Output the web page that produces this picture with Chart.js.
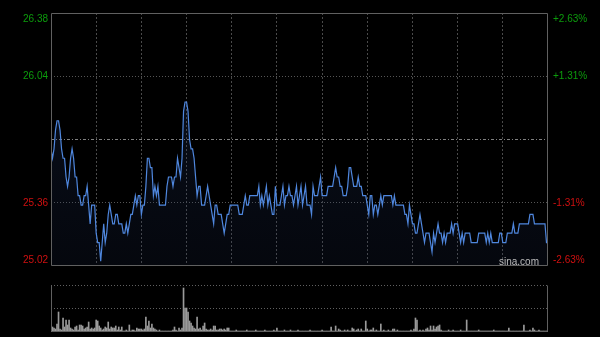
<!DOCTYPE html>
<html><head><meta charset="utf-8">
<script src="https://cdn.jsdelivr.net/npm/chart.js@4.4.0/dist/chart.umd.min.js"></script>
<style>
html,body{margin:0;padding:0;background:#000;width:600px;height:337px;overflow:hidden}
#wrapMain{position:absolute;left:0;top:0;width:600px;height:280px}
#wrapVol{position:absolute;left:0;top:280px;width:600px;height:57px}
#wm{position:absolute;left:499px;top:256px;font:10px Arial,'Liberation Sans',sans-serif;line-height:12px;color:#bbb}
</style></head><body>
<div id="wrapMain"><canvas id="main" width="600" height="280"></canvas></div>
<div id="wrapVol"><canvas id="vol" width="600" height="57"></canvas></div>
<div id="wm">sina.com</div>
<script>
// price per minute (HK session 09:30-12:00, 13:00-16:00)
const prices = [
25.65,25.60,25.65,25.75,25.80,25.80,25.75,25.65,25.60,25.60,
25.50,25.45,25.50,25.60,25.65,25.60,25.50,25.50,25.40,25.40,
25.35,25.35,25.40,25.40,25.45,25.35,25.25,25.35,25.35,25.35,
25.20,25.15,25.15,25.05,25.15,25.25,25.15,25.20,25.30,25.35,
25.30,25.25,25.25,25.30,25.30,25.25,25.25,25.25,25.20,25.20,
25.25,25.20,25.25,25.30,25.30,25.35,25.40,25.35,25.40,25.40,
25.30,25.35,25.35,25.45,25.60,25.60,25.55,25.55,25.40,25.45,
25.40,25.45,25.35,25.35,25.35,25.35,25.35,25.45,25.50,25.50,
25.50,25.45,25.50,25.50,25.60,25.55,25.50,25.60,25.85,25.90,
25.90,25.85,25.70,25.65,25.65,25.60,25.50,25.40,25.45,25.45,
25.35,25.35,25.35,25.40,25.45,25.40,25.35,25.30,25.25,25.35,
25.35,25.30,25.30,25.30,25.25,25.20,25.25,25.30,25.30,25.35,
25.35,25.35,25.35,25.35,25.35,25.30,25.30,25.30,25.35,25.40,
25.35,25.35,25.40,25.40,25.40,25.40,25.40,25.40,25.45,25.35,
25.40,25.35,25.40,25.45,25.35,25.40,25.35,25.30,25.30,25.45,
25.35,25.35,25.35,25.40,25.45,25.35,25.40,25.40,25.45,25.40,
25.40,25.35,25.40,25.45,25.35,25.40,25.45,25.35,25.40,25.45,
25.35,25.35,25.35,25.30,25.45,25.40,25.40,25.40,25.45,25.50,
25.40,25.40,25.40,25.40,25.45,25.45,25.45,25.45,25.50,25.55,
25.50,25.50,25.45,25.45,25.40,25.40,25.40,25.45,25.55,25.55,
25.50,25.45,25.45,25.45,25.50,25.45,25.45,25.40,25.40,25.40,
25.35,25.30,25.40,25.40,25.30,25.35,25.35,25.30,25.35,25.40,
25.35,25.40,25.40,25.40,25.40,25.40,25.40,25.35,25.40,25.35,
25.35,25.35,25.35,25.35,25.35,25.30,25.30,25.25,25.35,25.30,
25.25,25.25,25.20,25.20,25.25,25.30,25.25,25.20,25.15,25.20,
25.20,25.20,25.15,25.10,25.20,25.15,25.20,25.25,25.20,25.20,
25.15,25.20,25.15,25.20,25.20,25.20,25.25,25.20,25.25,25.25,
25.25,25.20,25.15,25.20,25.15,25.20,25.20,25.20,25.20,25.15,
25.15,25.15,25.15,25.15,25.20,25.20,25.20,25.20,25.20,25.15,
25.20,25.15,25.20,25.15,25.15,25.15,25.15,25.15,25.20,25.20,
25.15,25.15,25.15,25.20,25.20,25.20,25.20,25.25,25.20,25.20,
25.20,25.25,25.25,25.25,25.25,25.25,25.25,25.25,25.30,25.30,
25.30,25.25,25.25,25.25,25.25,25.25,25.25,25.25,25.25,25.15,
25.15
];
// volume per minute (relative units)
const volumes = [
15,5,4,3,8,20,3,2,14,5,
12,7,12,4,3,2,5,6,2,7,
7,6,3,4,5,10,3,4,3,4,
12,11,6,4,2,3,5,4,10,3,
5,4,4,6,2,5,2,5,1,1,
2,1,7,1,2,2,1,4,3,3,
3,2,3,15,6,11,4,8,4,3,
2,1,2,1,1,1,1,1,1,1,
1,2,5,2,1,4,2,4,44,24,
24,20,11,9,6,4,3,15,3,4,
2,6,9,3,2,2,3,2,6,6,
2,2,3,3,2,3,2,4,4,1,
1,1,1,2,1,1,1,1,1,1,
2,1,1,1,1,1,2,1,1,1,
1,1,2,1,1,1,1,1,2,1,
4,1,1,1,1,2,1,1,1,2,
1,1,1,1,2,1,1,1,1,1,
1,1,2,1,1,1,1,1,1,1,
2,1,1,1,1,1,5,1,1,6,
1,3,2,1,1,2,1,2,1,1,
4,3,1,2,3,1,3,1,1,11,
3,1,2,2,4,1,2,1,1,8,
1,2,1,1,2,1,1,3,3,1,
2,1,1,1,1,1,1,1,1,2,
1,3,14,12,1,2,1,2,1,3,
4,2,6,2,6,3,5,6,7,2,
1,1,1,1,2,1,1,2,1,1,
1,1,2,1,1,1,12,1,1,1,
1,1,1,1,2,1,1,1,1,1,
1,1,1,1,2,1,1,1,1,1,
1,1,1,1,4,1,1,1,1,1,
1,1,1,1,7,1,1,1,2,1,
4,2,1,1,2,1,1,1,1,1,
1
];
const preClose = 25.70;
const priceTicks = [25.025, 25.3625, 25.70, 26.0375, 26.375];
const priceLabels = ['25.02', '25.36', '', '26.04', '26.38'];
const pctLabels = ['-2.63%', '-1.31%', '', '+1.31%', '+2.63%'];
const upColor = '#0c9c0c', downColor = '#d01010';
const FONT = {family: "Arial, 'Liberation Sans', sans-serif", size: 10};

function tickColor(c){ return c.tick && c.tick.value > preClose ? upColor : downColor; }
function withOffset(lbl, idx){
  if (idx === priceTicks.length - 1) return ['', lbl];
  if (idx === 0) return [lbl, ''];
  return lbl;
}
function fitY(width){
  return (s) => { s.width = width; s.paddingTop = 0; s.paddingBottom = 0; };
}

const framePlugin = {
  id: 'frame',
  afterDatasetsDraw(chart){
    const ca = chart.chartArea, ctx = chart.ctx;
    ctx.save();
    ctx.strokeStyle = '#606060'; ctx.lineWidth = 1;
    const l = Math.round(ca.left) + 0.5, r = Math.round(ca.right) - 0.5;
    const t = Math.round(ca.top) + 0.5, b = Math.round(ca.bottom) - 0.5;
    ctx.beginPath();
    if (chart.canvas.id === 'main') {
      ctx.rect(l, t, r - l, b - t);
    } else {
      ctx.moveTo(l, t); ctx.lineTo(l, b); ctx.lineTo(r, b); ctx.lineTo(r, t);
    }
    ctx.stroke();
    ctx.restore();
  }
};

new Chart(document.getElementById('main'), {
  type: 'line',
  data: {datasets: [{
    data: prices.map((p, i) => ({x: i, y: p})),
    borderColor: '#4f87de', borderWidth: 1.2, pointRadius: 0, tension: 0,
    fill: 'start',
    backgroundColor: (c) => {
      const ca = c.chart.chartArea;
      if (!ca) return 'rgba(0,0,0,0)';
      const g = c.chart.ctx.createLinearGradient(0, ca.top, 0, ca.bottom);
      g.addColorStop(0, 'rgba(45,75,140,0.24)');
      g.addColorStop(1, 'rgba(30,45,85,0.16)');
      return g;
    }
  }]},
  options: {
    responsive: false, animation: false,
    layout: {padding: {top: 13, bottom: 14, left: 0, right: 0}},
    plugins: {legend: {display: false}, tooltip: {enabled: false}},
    scales: {
      x: {type: 'linear', min: 0, max: 330,
        ticks: {display: false, stepSize: 30},
        grid: {drawTicks: false, color: (c) => (c.tick && (c.tick.value === 0 || c.tick.value === 330)) ? 'rgba(0,0,0,0)' : '#4a4a4a'},
        border: {display: false, dash: [2, 2]},
        afterFit: (s) => { s.height = 0; s.paddingLeft = 0; s.paddingRight = 0; }
      },
      y: {position: 'left', min: 25.025, max: 26.375,
        afterBuildTicks: (s) => { s.ticks = priceTicks.map(v => ({value: v})); },
        ticks: {autoSkip: false, padding: 3, font: FONT, color: tickColor,
          callback: (v, i) => withOffset(priceLabels[i], i)},
        grid: {drawTicks: false, color: (c) => {
          const v = c.tick ? c.tick.value : 0;
          if (v === priceTicks[0] || v === priceTicks[4] || v === preClose) return 'rgba(0,0,0,0)';
          return '#555';
        }},
        border: {display: false, dash: [1, 2]},
        afterFit: fitY(51)
      },
      y2: {position: 'right', min: 25.025, max: 26.375,
        afterBuildTicks: (s) => { s.ticks = priceTicks.map(v => ({value: v})); },
        ticks: {autoSkip: false, padding: 5, font: FONT, color: tickColor,
          callback: (v, i) => withOffset(pctLabels[i], i)},
        grid: {drawTicks: false, color: (c) => (c.tick && c.tick.value === preClose) ? '#808080' : 'rgba(0,0,0,0)'},
        border: {display: false, dash: [3, 2, 1, 2]},
        afterFit: fitY(52)
      }
    }
  },
  plugins: [framePlugin]
});

new Chart(document.getElementById('vol'), {
  type: 'bar',
  data: {datasets: [{
    data: volumes.map((v, i) => ({x: i, y: v})),
    backgroundColor: '#9a9a9a', barThickness: 1, borderWidth: 0
  }]},
  options: {
    responsive: false, animation: false,
    layout: {padding: {top: 5, bottom: 5, left: 0, right: 52}},
    plugins: {legend: {display: false}, tooltip: {enabled: false}},
    scales: {
      x: {type: 'linear', min: 0, max: 330, offset: false,
        ticks: {display: false}, grid: {display: false}, border: {display: false},
        afterFit: (s) => { s.height = 0; s.paddingLeft = 0; s.paddingRight = 0; }
      },
      y: {min: 0, max: 47,
        afterBuildTicks: (s) => { s.ticks = [{value: 23.5}, {value: 47}]; },
        ticks: {display: false},
        grid: {drawTicks: false, color: '#606060'},
        border: {display: false, dash: [1, 2]},
        afterFit: fitY(51)
      }
    }
  },
  plugins: [framePlugin]
});
</script>
</body></html>
